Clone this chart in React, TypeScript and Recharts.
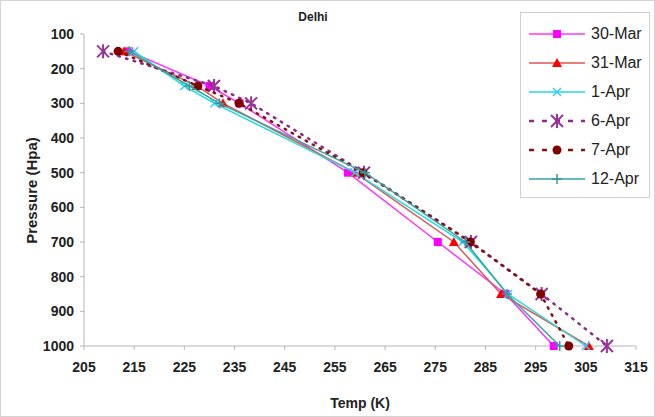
import { ScatterChart, Scatter, XAxis, YAxis, Legend } from 'recharts'

// pressure levels (hPa) shared by every sounding
const pressure = [150, 250, 300, 500, 700, 850, 1000]

// temperatures (K)
const mar30 = [214, 230, 236, 257.6, 275.5, 289, 298.6]
const mar31 = [213, 227.5, 232.7, 259, 278.7, 288.1, 305.6]
const apr1 = [215, 225, 231, 259, 280.5, 289.5, 305]
const apr6 = [208.8, 230.9, 238.3, 260.8, 282.1, 296.2, 309.2]
const apr7 = [211.8, 227.7, 235.9, 260.6, 282, 296, 301.6]
const apr12 = [214, 226, 232, 261, 281, 289.3, 299.8]

const tempTicks = [205, 215, 225, 235, 245, 255, 265, 275, 285, 295, 305, 315]
const pressureTicks = [100, 200, 300, 400, 500, 600, 700, 800, 900, 1000]

type Marker = 'square' | 'triangle' | 'x' | 'star' | 'circle' | 'plus'

const SERIES: { name: string; temps: number[]; line: string; fill: string; marker: Marker; dash?: string }[] = [
  { name: '30-Mar', temps: mar30, line: '#ff33ff', fill: '#ff00ff', marker: 'square' },
  { name: '31-Mar', temps: mar31, line: '#e05555', fill: '#ff0000', marker: 'triangle' },
  { name: '1-Apr', temps: apr1, line: '#22dddd', fill: '#33ccff', marker: 'x' },
  { name: '6-Apr', temps: apr6, line: '#8a2a8a', fill: '#993399', marker: 'star', dash: '1.5 6.5' },
  { name: '7-Apr', temps: apr7, line: '#8a1010', fill: '#800000', marker: 'circle', dash: '1.5 6.5' },
  { name: '12-Apr', temps: apr12, line: '#33a6a0', fill: '#339999', marker: 'plus' },
]

function Glyph({ kind, x, y, color }: { kind: Marker; x: number; y: number; color: string }) {
  switch (kind) {
    case 'square':
      return <rect x={x - 4} y={y - 4} width={8} height={8} fill={color} />
    case 'triangle':
      return <polygon points={`${x},${y - 5} ${x + 5},${y + 4} ${x - 5},${y + 4}`} fill={color} />
    case 'x':
      return (
        <g stroke={color} strokeWidth={1.5}>
          <line x1={x - 4} y1={y - 4} x2={x + 4} y2={y + 4} />
          <line x1={x - 4} y1={y + 4} x2={x + 4} y2={y - 4} />
        </g>
      )
    case 'star':
      return (
        <g stroke={color} strokeWidth={2}>
          <line x1={x - 6} y1={y - 6} x2={x + 6} y2={y + 6} />
          <line x1={x - 6} y1={y + 6} x2={x + 6} y2={y - 6} />
          <line x1={x} y1={y - 7} x2={x} y2={y + 7} />
        </g>
      )
    case 'circle':
      return <circle cx={x} cy={y} r={4.5} fill={color} />
    case 'plus':
      return (
        <g stroke={color} strokeWidth={1.5}>
          <line x1={x} y1={y - 5} x2={x} y2={y + 5} />
          <line x1={x - 5} y1={y} x2={x + 5} y2={y} />
        </g>
      )
  }
}

function LegendBox() {
  return (
    <div style={{ border: '1px solid #cfcfcf', background: '#fff', width: 128, padding: '6px 0 4px 0' }}>
      {SERIES.map(s => (
        <div key={s.name} style={{ display: 'flex', alignItems: 'center', height: 29 }}>
          <svg width={64} height={16} style={{ marginLeft: 6 }}>
            <line x1={2} y1={8} x2={58} y2={8} stroke={s.line} strokeWidth={s.dash ? 2.5 : 1.5}
              strokeDasharray={s.dash ? '5 8' : undefined} />
            <Glyph kind={s.marker} x={30} y={8} color={s.fill} />
          </svg>
          <span style={{ fontFamily: 'Liberation Sans, Arial, sans-serif', fontSize: 16, color: '#222' }}>{s.name}</span>
        </div>
      ))}
    </div>
  )
}

const tickStyle = { fontFamily: 'Liberation Sans, Arial, sans-serif', fontSize: 14, fontWeight: 700, fill: '#222' }

export default function App() {
  return (
    <div style={{ position: 'absolute', left: 0, top: 0, width: 653, height: 415, border: '1px solid #d4d4d4', background: '#fff' }}>
      <ScatterChart width={653} height={415} margin={{ top: 33, right: 18, bottom: 20, left: 23 }}>
        <XAxis type="number" dataKey="t" domain={[205, 315]} ticks={tempTicks}
          stroke="#b5b5b5" tickSize={4} tickMargin={12} tick={tickStyle} height={50} />
        <YAxis type="number" dataKey="p" domain={[100, 1000]} ticks={pressureTicks} reversed
          stroke="#b5b5b5" tickSize={4} tickMargin={6} tick={tickStyle} width={60} />
        {SERIES.map(s => (
          <Scatter
            key={s.name}
            name={s.name}
            data={pressure.map((p, i) => ({ p, t: s.temps[i] }))}
            line={{ stroke: s.line, strokeWidth: s.dash ? 2.5 : 1.5, strokeDasharray: s.dash, strokeLinecap: 'round' }}
            lineType="joint"
            shape={(props: any) => <Glyph kind={s.marker} x={props.cx} y={props.cy} color={s.fill} />}
            isAnimationActive={false}
          />
        ))}
        <Legend layout="horizontal" verticalAlign="middle" align="center"
          wrapperStyle={{ position: 'absolute', left: 519, top: 11, width: 130 }}
          content={() => <LegendBox />} />
      </ScatterChart>
      <div style={{ position: 'absolute', left: 0, width: 624, top: 9, textAlign: 'center', fontFamily: 'Liberation Sans, Arial, sans-serif', fontSize: 12, fontWeight: 700, color: '#222' }}>
        Delhi
      </div>
      <div style={{ position: 'absolute', left: 83, width: 552, top: 394, textAlign: 'center', fontFamily: 'Liberation Sans, Arial, sans-serif', fontSize: 14, fontWeight: 700, color: '#222' }}>
        Temp (K)
      </div>
      <div style={{ position: 'absolute', left: 30, top: 190, width: 0, height: 0 }}>
        <div style={{ position: 'absolute', left: -100, top: -9, width: 200, textAlign: 'center', transform: 'rotate(-90deg)', fontFamily: 'Liberation Sans, Arial, sans-serif', fontSize: 15, fontWeight: 700, color: '#222', whiteSpace: 'nowrap' }}>
          Pressure (Hpa)
        </div>
      </div>
    </div>
  )
}
